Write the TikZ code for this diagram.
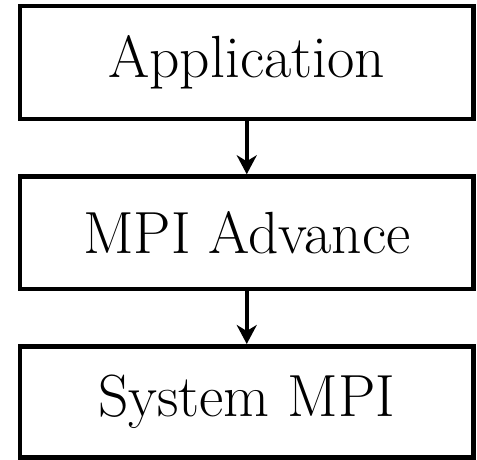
\documentclass[tikz,border=0pt]{standalone}
\usetikzlibrary{arrows.meta}
\begin{document}
\begin{tikzpicture}[x=1pt,y=1pt,
  layer/.style={draw=black, line width=4.5pt, fill=white, inner sep=0pt,
    minimum width=453.5pt, font=\fontsize{59.5}{66}\selectfont},
  flow/.style={line width=4.5pt, -{Stealth[length=19pt,width=20pt,inset=6pt]}}]
  \useasboundingbox (0,0) rectangle (477,459);
  % stack of layers, top to bottom
  \node[layer, minimum height=113pt] (app) at (246.75,396.5) {Application};
  \node[layer, minimum height=112.5pt] (adv) at (246.75,226.25) {MPI Advance};
  \node[layer, minimum height=111pt] (sys) at (246.75,57.25) {System MPI};
  % calls go down the stack
  \draw[flow] (app.south) -- (adv.north);
  \draw[flow] (adv.south) -- (sys.north);
\end{tikzpicture}
\end{document}
